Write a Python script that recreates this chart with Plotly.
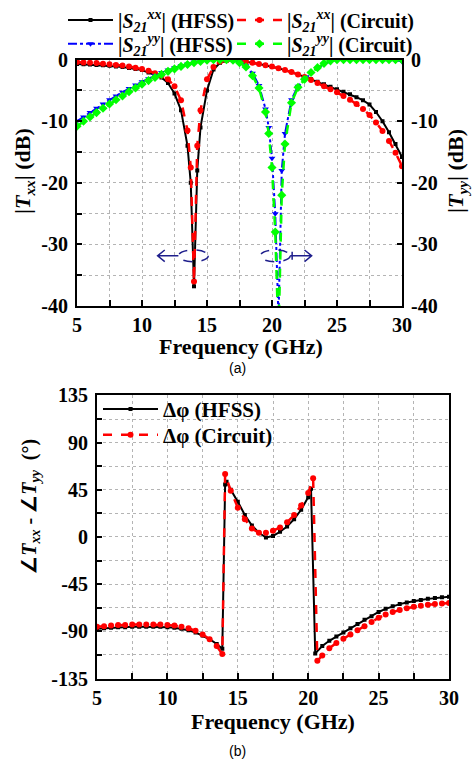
import plotly.graph_objects as go

# ---------------- data: (a) magnitude ----------------
f_xx_hfss = [5, 5.5, 6, 6.5, 7, 7.5, 8, 8.5, 9, 9.5, 10, 10.5, 11, 11.5, 12, 12.5, 13, 13.5, 13.75, 14,
             14.25, 14.5, 15, 15.5, 16, 16.5, 17, 17.5, 18, 18.5, 19, 19.5, 20, 20.5, 21, 21.5, 22, 22.5,
             23, 23.5, 24, 24.5, 25, 25.5, 26, 26.5, 27, 27.5, 28, 28.5, 29, 29.5, 30]
s_xx_hfss = [-0.7, -0.75, -0.8, -0.85, -0.9, -1.0, -1.1, -1.2, -1.35, -1.5, -1.7, -2.1, -2.5, -2.9, -3.8, -5.5,
             -8.2, -14.0, -20.0, -36.8, -18.0, -11.0, -5.0, -1.6, -0.5, -0.2, -0.1, -0.2, -0.3, -0.5, -0.7,
             -0.9, -1.1, -1.4, -1.7, -2.0, -2.4, -2.8, -3.2, -3.6, -4.0, -4.4, -4.8, -5.2, -5.6, -6.1, -6.6,
             -7.3, -8.5, -10.0, -11.8, -13.7, -15.8]

f_xx_circ = f_xx_hfss
s_xx_circ = [-0.4, -0.45, -0.5, -0.55, -0.65, -0.75, -0.85, -0.95, -1.1, -1.3, -1.5, -1.8, -2.2, -2.6, -3.2, -4.3,
             -6.6, -11.5, -17.5, -36.0, -14.0, -8.2, -3.2, -1.2, -0.3, -0.1, 0.0, -0.1, -0.3, -0.5, -0.7,
             -0.9, -1.1, -1.4, -1.7, -2.0, -2.4, -2.8, -3.3, -3.8, -4.3, -4.8, -5.3, -5.9, -6.5, -7.2, -8.0,
             -9.0, -10.2, -11.6, -13.2, -15.1, -17.3]

f_yy = [5, 5.5, 6, 6.5, 7, 7.5, 8, 8.5, 9, 9.5, 10, 10.5, 11, 11.5, 12, 12.5, 13, 13.5, 14, 14.5, 15, 15.5,
        16, 16.5, 17, 17.5, 18, 18.5, 19, 19.5, 19.75, 20, 20.25, 20.5, 20.75, 21, 21.5, 22, 22.5, 23, 23.5,
        24, 24.5, 25, 25.5, 26, 26.5, 27, 27.5, 28, 28.5, 29, 29.5, 30]
s_yy_hfss = [-10.0, -9.3, -8.6, -7.9, -7.2, -6.5, -5.9, -5.3, -4.7, -4.1, -3.6, -3.1, -2.6, -2.1, -1.7, -1.3,
             -1.0, -0.7, -0.4, -0.2, -0.1, 0.0, 0.0, 0.0, -0.1, -0.4, -1.0, -2.2, -4.2, -8.0, -11.0, -16.0,
             -25.0, -42.0, -18.0, -12.0, -6.5, -4.3, -3.2, -2.2, -1.4, -0.7, -0.3, 0.0, 0.0, 0.0, 0.0, 0.0,
             0.0, 0.0, 0.0, -0.05, -0.1, -0.3]
s_yy_circ = [-10.8, -10.0, -9.3, -8.6, -7.9, -7.2, -6.5, -5.9, -5.2, -4.6, -4.0, -3.4, -2.9, -2.4, -1.9, -1.5,
             -1.1, -0.8, -0.5, -0.3, -0.1, 0.0, 0.0, 0.0, -0.1, -0.5, -1.2, -2.6, -4.6, -8.5, -12.0, -17.5,
             -28.0, -45.0, -22.0, -13.7, -7.0, -4.5, -3.2, -2.1, -1.3, -0.6, -0.2, 0.0, 0.0, 0.0, 0.0, 0.0,
             0.0, 0.0, 0.0, 0.0, 0.0, 0.0]

# ---------------- data: (b) phase difference ----------------
f_ph_hfss = [5, 5.5, 6, 6.5, 7, 7.5, 8, 8.5, 9, 9.5, 10, 10.5, 11, 11.5, 12, 12.5, 13, 13.5, 13.9, 14.1, 14.2,
             14.5, 15, 15.5, 16, 16.5, 17, 17.5, 18, 18.5, 19, 19.5, 20, 20.2, 20.5, 21, 21.5, 22, 22.5, 23,
             23.5, 24, 24.5, 25, 25.5, 26, 26.5, 27, 27.5, 28, 28.5, 29, 29.5, 30]
ph_hfss = [-87.5, -87, -86.5, -86, -86, -85.5, -85.5, -85.5, -85.5, -85.5, -86, -86.5, -87.5, -89, -91, -94,
           -97.5, -102, -106.5, 50, 52.6, 45, 33.7, 21, 11, 4, -0.5, 1, 5, 10, 17, 26, 38, 46, -111, -104,
           -99, -95, -91, -87, -83, -79, -75.5, -71.5, -68.5, -66, -64, -62.5, -61, -60, -59, -58.2, -57.5, -57]
f_ph_circ = [5, 5.5, 6, 6.5, 7, 7.5, 8, 8.5, 9, 9.5, 10, 10.5, 11, 11.5, 12, 12.5, 13, 13.5, 13.9, 14.1,
             14.5, 15, 15.5, 16, 16.5, 17, 17.5, 18, 18.5, 19, 19.5, 20, 20.35, 20.65, 21, 21.5, 22, 22.5, 23,
             23.5, 24, 24.5, 25, 25.5, 26, 26.5, 27, 27.5, 28, 28.5, 29, 29.5, 30]
ph_circ = [-85.5, -85, -84.5, -84, -84, -83.5, -83.5, -83.5, -83.5, -83.5, -84, -84.5, -85.5, -87, -89.5, -93,
           -97.5, -104, -111.5, 60, 44, 28, 17, 8, 4, 4, 6, 9, 14, 21, 30, 42, 56, -118, -113, -106, -101,
           -97, -93, -89, -85, -81, -77, -74, -71.5, -69.5, -68, -66.5, -65.5, -64.5, -64, -63.5, -63]

x_ticks = [5, 10, 15, 20, 25, 30]
x_ticklabels = ['5', '10', '15', '20', '25', '30']
db_ticks = [-40, -30, -20, -10, 0]
db_ticklabels = ['-40', '-30', '-20', '-10', '0']
deg_ticks = [-135, -90, -45, 0, 45, 90, 135]
deg_ticklabels = ['-135', '-90', '-45', '0', '45', '90', '135']

# ---------------- figure ----------------
W, H = 474, 764
def PX(x): return x / W
def PY(y): return 1 - y / H

SERIF = 'Liberation Serif'
tickfont = dict(family=SERIF, size=20, color='black', weight='bold')
NAVY = '#1e1e8c'
GRID = '#b4b4b4'

fig = go.Figure()
fig.add_trace(go.Scatter(x=f_xx_hfss, y=s_xx_hfss, mode='lines+markers',
                         name='|<i>S</i><sub><i>21</i></sub><sup><i>xx</i></sup>| (HFSS)',
                         line=dict(color='black', width=2),
                         marker=dict(symbol='square', size=4, color='black'),
                         xaxis='x', yaxis='y', legend='legend'))
fig.add_trace(go.Scatter(x=f_xx_circ, y=s_xx_circ, mode='lines+markers',
                         name='|<i>S</i><sub><i>21</i></sub><sup><i>xx</i></sup>| (Circuit)',
                         line=dict(color='#ff0000', width=2.5, dash='dash'),
                         marker=dict(symbol='circle', size=6, color='#ff0000'),
                         xaxis='x', yaxis='y', legend='legend3'))
fig.add_trace(go.Scatter(x=f_yy, y=s_yy_hfss, mode='lines+markers',
                         name='|<i>S</i><sub><i>21</i></sub><sup><i>yy</i></sup>| (HFSS)',
                         line=dict(color='#0000ff', width=2, dash='dashdot'),
                         marker=dict(symbol='triangle-down', size=6, color='#0000ff'),
                         xaxis='x', yaxis='y2', legend='legend4'))
fig.add_trace(go.Scatter(x=f_yy, y=s_yy_circ, mode='lines+markers',
                         name='|<i>S</i><sub><i>21</i></sub><sup><i>yy</i></sup>| (Circuit)',
                         line=dict(color='#00ff00', width=2.5, dash='dash'),
                         marker=dict(symbol='diamond', size=7, color='#00ff00'),
                         xaxis='x', yaxis='y2', legend='legend5'))
fig.add_trace(go.Scatter(x=f_ph_hfss, y=ph_hfss, mode='lines+markers',
                         name='Δφ (HFSS)',
                         line=dict(color='black', width=2),
                         marker=dict(symbol='square', size=4, color='black'),
                         xaxis='x2', yaxis='y3', legend='legend2'))
fig.add_trace(go.Scatter(x=f_ph_circ, y=ph_circ, mode='lines+markers',
                         name='Δφ (Circuit)',
                         line=dict(color='#ff0000', width=2.5, dash='dash'),
                         marker=dict(symbol='circle', size=6, color='#ff0000'),
                         xaxis='x2', yaxis='y3', legend='legend6'))

def xax(domain, anchor):
    return dict(domain=domain, anchor=anchor, range=[5, 30], tickmode='array', tickvals=x_ticks,
                ticktext=x_ticklabels, ticks='inside', ticklen=6, tickwidth=1.5, tickcolor='black',
                minor=dict(tickmode='linear', tick0=5, dtick=2.5, ticks='inside', ticklen=6, tickwidth=1.5,
                           tickcolor='black', showgrid=True, gridcolor=GRID, griddash='dot', gridwidth=1),
                showgrid=True, gridcolor=GRID, griddash='dot', gridwidth=1,
                showline=True, linewidth=2, linecolor='black', mirror=True,
                zeroline=False, tickfont=tickfont, automargin=False, ticklabelstandoff=0)

def yax(domain, anchor, rng, vals, texts, minor_dt, side='left', overlay=None, grid=True):
    d = dict(domain=domain, anchor=anchor, range=rng, tickmode='array', tickvals=vals, ticktext=texts,
             ticks='inside', ticklen=5, tickwidth=1.5, tickcolor='black', side=side,
             showgrid=grid, gridcolor=GRID, griddash='dot', gridwidth=1,
             showline=True, linewidth=2, linecolor='black', mirror=True,
             zeroline=False, tickfont=tickfont, automargin=False, ticklabelstandoff=3)
    if grid:
        d['minor'] = dict(tickmode='linear', tick0=0, dtick=minor_dt, ticks='inside', ticklen=5,
                          tickwidth=1.5, tickcolor='black', showgrid=True, gridcolor=GRID,
                          griddash='dot', gridwidth=1)
    if overlay:
        d['overlaying'] = overlay
        d.pop('domain')
    return d

top_dom_y = [PY(303), PY(55)]
bot_dom_y = [PY(678), PY(393)]

def leg(xl, yc, iw, size=20):
    return dict(x=PX(xl), y=PY(yc), xanchor='left', yanchor='middle', bgcolor='rgba(0,0,0,0)',
                font=dict(family=SERIF, size=size, color='black', weight='bold'),
                itemwidth=iw, tracegroupgap=0, borderwidth=0)

fig.update_layout(
    width=W, height=H, margin=dict(l=0, r=0, t=0, b=0),
    paper_bgcolor='white', plot_bgcolor='white',
    xaxis=xax([PX(77), PX(402)], 'y'),
    yaxis=yax(top_dom_y, 'x', [-40, 0], db_ticks, db_ticklabels, 5),
    yaxis2=yax(None, 'x', [-40, 0], db_ticks, db_ticklabels, 5, side='right', overlay='y', grid=False),
    xaxis2=xax([PX(97), PX(449)], 'y3'),
    yaxis3=yax(bot_dom_y, 'x2', [-135, 135], deg_ticks, deg_ticklabels, 22.5),
    legend=leg(63, 15, 45),
    legend3=leg(232, 15, 45),
    legend4=leg(63, 39, 45),
    legend5=leg(232, 39, 45),
    legend2=leg(98, 407, 55, 21),
    legend6=leg(98, 433, 55, 21),
    showlegend=True,
)

titlefont = dict(family=SERIF, size=22, color='black', weight='bold')
ytitlefont = dict(family=SERIF, size=22, color='black', weight='bold')
ann = [
    dict(text='Frequency (GHz)', x=PX(241), y=PY(344), font=titlefont),
    dict(text='Frequency (GHz)', x=PX(273), y=PY(721), font=titlefont),
    dict(text='|<i>T</i><sub><i>xx</i></sub>| (dB)', x=PX(24), y=PY(167), textangle=-90, font=ytitlefont),
    dict(text='|<i>T</i><sub><i>yy</i></sub>| (dB)', x=PX(457), y=PY(167), textangle=-90, font=ytitlefont),
    dict(text='∠<i>T</i><sub><i>xx</i></sub> - ∠<i>T</i><sub><i>yy</i></sub>  (°)', x=PX(31), y=PY(505),
         textangle=-90, font=dict(family=SERIF, size=20, color='black', weight='bold')),
    dict(text='(a)', x=PX(237), y=PY(365), font=dict(family='Liberation Sans', size=14, color='black')),
    dict(text='(b)', x=PX(237), y=PY(751), font=dict(family='Liberation Sans', size=14, color='black')),
]
for a in ann:
    a.update(xref='paper', yref='paper', showarrow=False, xanchor='center', yanchor='middle')
fig.update_layout(annotations=ann)

# dashed ellipses + arrows marking which axis each curve pair belongs to
shapes = [
    dict(type='circle', xref='x', yref='y', x0=12.8, x1=15.1, y0=-32.8, y1=-30.9,
         line=dict(color=NAVY, width=1.5, dash='dash')),
    dict(type='path', xref='x', yref='y', path='M 12.8 -31.85 L 11.2 -31.85 M 11.75 -30.9 L 11.2 -31.85 L 11.75 -32.8',
         line=dict(color=NAVY, width=1.5)),
    dict(type='circle', xref='x', yref='y2', x0=19.1, x1=21.4, y0=-32.8, y1=-30.9,
         line=dict(color=NAVY, width=1.5, dash='dash')),
    dict(type='path', xref='x', yref='y2', path='M 21.4 -31.85 L 23.05 -31.85 M 22.5 -30.9 L 23.05 -31.85 L 22.5 -32.8 M 21.55 -31.2 L 21.55 -32.5',
         line=dict(color=NAVY, width=1.5)),
]
fig.update_layout(shapes=shapes)

fig.write_html('out.html')
